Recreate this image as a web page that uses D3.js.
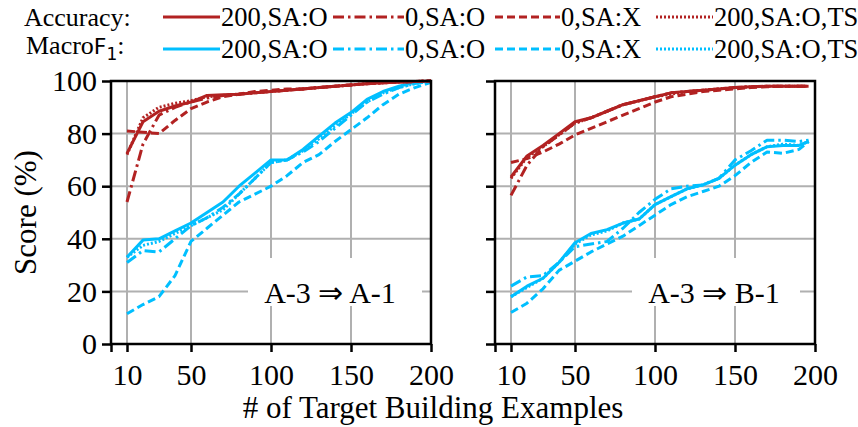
<!DOCTYPE html>
<html><head><meta charset="utf-8">
<script src="https://cdn.jsdelivr.net/npm/d3@7"></script>
<style>
html,body{margin:0;padding:0;background:#fff;}
svg text{font-family:"Liberation Serif" !important;}
svg tspan.sans{font-family:"DejaVu Sans" !important;}
</style></head>
<body><svg id="c" width="858" height="427"></svg>
<script>
// ---------- data ----------
const xLeft  = [10,20,30,40,50,60,70,80,90,100,110,120,130,140,150,160,170,180,190,200];
const xRight = [10,20,30,40,50,60,70,80,90,100,110,120,130,140,150,160,170,180,190,196];
const xTicks = [10,50,100,150,200];
const yTicks = [0,20,40,60,80,100];
const seriesNames = ["200,SA:O","0,SA:O","0,SA:X","200,SA:O,TS"];
const metricNames = ["Accuracy:","MacroF1:"];
const panelTitles = ["A-3 \u21D2 A-1","A-3 \u21D2 B-1"];

// Left panel (A-3 => A-1)
const accL_200   = [72.5,84.5,88.5,90.5,92,94.5,94.8,95,95.5,96,96.5,97,97.5,98,98.5,99,99.3,99.6,99.8,100];
const accL_0     = [54,76,87,90,92,93.5,94.5,95,95.5,96,96.5,97,97.5,98,98.5,99,99.3,99.6,99.8,100];
const accL_0X    = [81,80.5,80,85,89.5,92,94,95,96,96.5,97,97,97.5,98,98.5,99,99.3,99.6,99.8,100];
const accL_200TS = [72,86,90,91.5,92.5,94,94.5,95,95.5,96,96.5,97,97.5,98,98.5,99,99.3,99.6,99.8,100];
const f1L_200    = [33,39.5,40,43,46,50,54,60,65,70,70,74,79,84,88,93,96,98,99.5,100];
const f1L_0      = [31,35.5,35,40,45,48,52,57,63,69,70,73,77,82,87,92,95,97.5,99,100];
const f1L_0X     = [11.5,15,18,26,39,44,49,54,57,60,64,69,72,77,81.5,86,91,95,97.5,99.5];
const f1L_200TS  = [33,37.5,39,42,45,48,51,57,63,69,70,73.5,78,83,87.5,92,95.5,97.5,99,100];

// Right panel (A-3 => B-1)
const accR_200   = [63.5,71.5,75.5,80,84.5,86,88.5,91,92.5,94,95.5,96,96.5,97,97.5,97.8,98,98,98,98];
const accR_0     = [56.5,68,75,79.5,84,86,88.5,91,92.5,94,95.5,96,96.5,97,97.5,97.8,98,98,98,98];
const accR_0X    = [69,70.5,73,76,79.5,82,84.5,87,89.5,92,94,95,96,96.5,97,97.5,97.8,98,98,98];
const accR_200TS = [63,71,75,79.5,84,86,88.5,91,92.5,94,95,96,96.5,97,97.5,97.8,98,98,98,98];
const f1R_200    = [18,22,25,31,38.5,42,43.5,46,47.5,53,56,59,60.5,63,68,72,75,75.5,75.5,77];
const f1R_0      = [22,25.5,26,31,37,38,39,44,50,55,59,60,60.5,63,70,73.5,77.5,77.5,77,77.5];
const f1R_0X     = [12,15.5,21,28,31.5,35,38,41,45,49,53,56,58,60,64,69,73,72.5,74,77];
const f1R_200TS  = [18,21.5,25,31,38,41.5,43,46,47.5,53,56,59,60.5,63,68,72,75,76,75.5,77];

// ---------- styles ----------
const RED = "#b22222", CYAN = "#00bfff";
const SERIF = "Liberation Serif";
const dashes = [null, "11,4,2.5,4", "8,4", "2,2"];

const svg = d3.select("#c");
const panels = [
  {x0:111, x:xLeft, title:panelTitles[0],
   acc:[accL_200,accL_0,accL_0X,accL_200TS], f1:[f1L_200,f1L_0,f1L_0X,f1L_200TS], box:[248,422], tx:330},
  {x0:495, x:xRight, title:panelTitles[1],
   acc:[accR_200,accR_0,accR_0X,accR_200TS], f1:[f1R_200,f1R_0,f1R_0X,f1R_200TS], box:[632,800], tx:714}
];
const T0 = 81, B0 = 344, W = 320;
const y = d3.scaleLinear().domain([0,100]).range([B0, T0]);

panels.forEach((p, pi) => {
  const x = d3.scaleLinear().domain([0,200]).range([p.x0, p.x0+W]);
  const g = svg.append("g");
  g.selectAll(".gx").data(xTicks.filter(t=>t<200)).join("line")
    .attr("x1",d=>x(d)).attr("x2",d=>x(d)).attr("y1",T0).attr("y2",B0)
    .attr("stroke","#b0b0b0").attr("stroke-width",2);
  g.selectAll(".gy").data(yTicks.filter(t=>t>0&&t<100)).join("line")
    .attr("x1",p.x0).attr("x2",p.x0+W).attr("y1",d=>y(d)).attr("y2",d=>y(d))
    .attr("stroke","#b0b0b0").attr("stroke-width",2);
  g.append("rect").attr("x",p.box[0]).attr("y",258).attr("width",p.box[1]-p.box[0]).attr("height",48).attr("fill","#fff");
  const line = d3.line().x((d,i)=>x(p.x[i])).y(d=>y(d));
  const draw = (arr,color) => arr.forEach((s,k)=>{
    g.append("path").datum(s).attr("d",line).attr("fill","none")
      .attr("stroke",color).attr("stroke-width",3)
      .attr("stroke-dasharray",dashes[k]).attr("stroke-linejoin","round");
  });
  draw(p.f1, CYAN);
  draw(p.acc, RED);
  g.append("text").attr("x",p.tx).attr("y",303).attr("text-anchor","middle")
    .attr("font-family",SERIF).attr("font-size",30).attr("fill","#000").text(p.title);
  g.append("rect").attr("x",p.x0).attr("y",T0).attr("width",W).attr("height",B0-T0)
    .attr("fill","none").attr("stroke","#000").attr("stroke-width",2.5);
  const xa = d3.axisBottom(x).tickValues([0].concat(xTicks)).tickSize(8).tickPadding(6)
    .tickFormat(d=> d===0 ? "" : d);
  const gx = g.append("g").attr("transform",`translate(0,${B0})`).call(xa)
    .attr("font-family",SERIF).attr("font-size",30);
  gx.select(".domain").remove();
  gx.selectAll("line").attr("stroke","#000").attr("stroke-width",2.5);
  gx.selectAll("text").attr("y",41).attr("dy",null).attr("fill","#000");
  const ya = d3.axisLeft(y).tickValues(yTicks).tickSize(9).tickPadding(5);
  const gy = g.append("g").attr("transform",`translate(${p.x0},0)`).call(ya)
    .attr("font-family",SERIF).attr("font-size",30);
  gy.select(".domain").remove();
  gy.selectAll("line").attr("stroke","#000").attr("stroke-width",2.5);
  gy.selectAll("text").attr("fill","#000");
  if (pi===1) gy.selectAll("text").remove();
});

svg.append("text").attr("transform",`translate(36,${(T0+B0)/2}) rotate(-90)`)
  .attr("text-anchor","middle").attr("font-family",SERIF).attr("font-size",31).text("Score (%)");
svg.append("text").attr("x",433).attr("y",418).attr("text-anchor","middle")
  .attr("font-family",SERIF).attr("font-size",31).text("# of Target Building Examples");

// ---------- legend ----------
const legX = [[163,220],[333,404],[495,560],[656,713]];
const rows = [{name:metricNames[0], color:RED, y:17},{name:metricNames[1], color:CYAN, y:49}];
rows.forEach((r,ri)=>{
  if (ri===0) {
    svg.append("text").attr("x",24).attr("y",r.y+9).attr("font-family",SERIF).attr("font-size",26).text(r.name);
  } else {
    const t = svg.append("text").attr("x",26).attr("y",r.y+5).attr("font-family",SERIF).attr("font-size",26);
    t.append("tspan").text("Macro");
    t.append("tspan").attr("class","sans").attr("font-size",22).text("F");
    t.append("tspan").attr("class","sans").attr("font-size",17).attr("dy",6).text("1");
    t.append("tspan").attr("dy",-6).text(":");
  }
  seriesNames.forEach((s,k)=>{
    svg.append("line").attr("x1",legX[k][0]).attr("x2",legX[k][1]).attr("y1",r.y).attr("y2",r.y)
      .attr("stroke",r.color).attr("stroke-width",3).attr("stroke-dasharray",dashes[k]);
    svg.append("text").attr("x",legX[k][1]+1).attr("y",r.y+9).attr("font-family",SERIF)
      .attr("font-size",26.5).text(s);
  });
});
</script></body></html>
